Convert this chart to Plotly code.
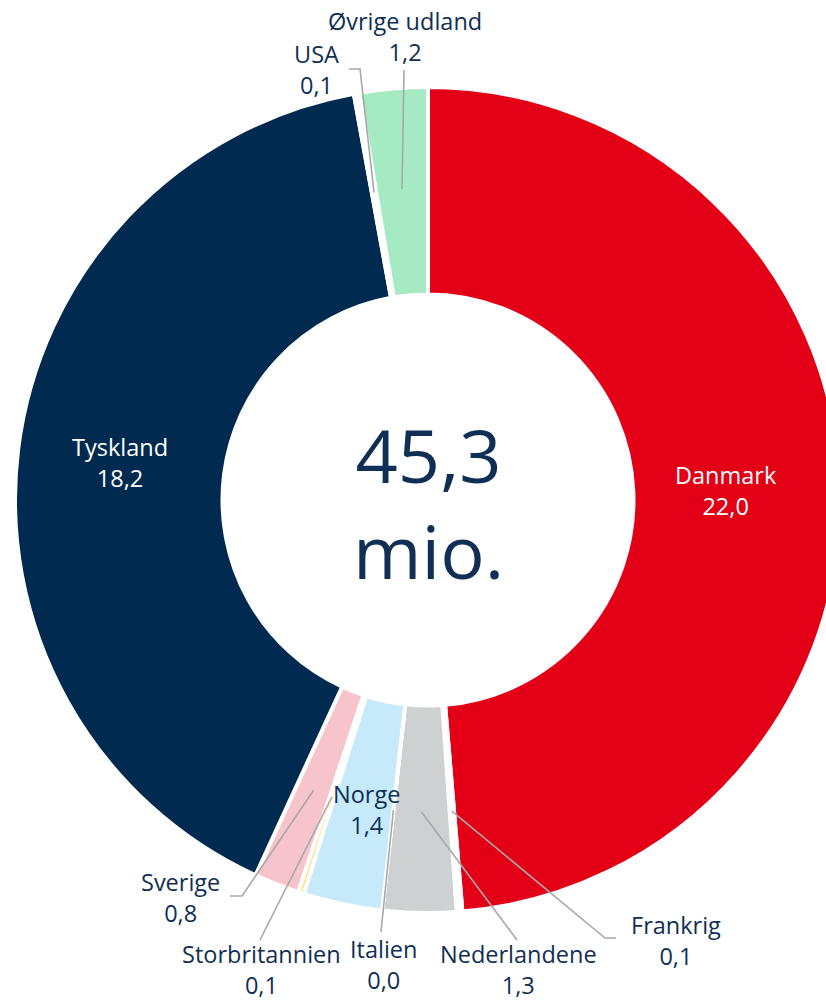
import math
import plotly.graph_objects as go

# ---------------- data ----------------
countries = ["Danmark", "Frankrig", "Nederlandene", "Italien", "Norge",
             "Storbritannien", "Sverige", "Tyskland", "USA", "Øvrige udland"]
values = [22.0, 0.1, 1.3, 0.0, 1.4, 0.1, 0.8, 18.2, 0.1, 1.2]
total_text = ["45,3", "mio."]

# ---------------- style ----------------
slice_colors = {
    "Danmark": "#E30016", "Frankrig": "#FFFFFF", "Nederlandene": "#CED1D2",
    "Italien": "#FFFFFF", "Norge": "#C6EAFA", "Storbritannien": "#FFE36E",
    "Sverige": "#F8C4CC", "Tyskland": "#002A4F", "USA": "#FFFFFF",
    "Øvrige udland": "#A6EAC3",
}
NAVY = "#0F2F55"
LEADER = "#A8A8A8"
FONT = "Open Sans, Lato, sans-serif"
LABEL_SIZE = 23.5

W, H = 856, 1001          # figure size in px
CX, CY = 428, 500         # pie centre (px)
R = 413                   # pie radius (px)
HOLE = 0.4976
ANCHOR_R = 312            # where leader lines start (px from centre)

# label block centre positions (px) and text colour
label_pos = {
    "Danmark": (726, 491, "white"),
    "Tyskland": (120, 462, "white"),
    "Norge": (366, 809, NAVY),
    "Øvrige udland": (405, 37, NAVY),
    "USA": (316, 69, NAVY),
    "Sverige": (180, 897, NAVY),
    "Storbritannien": (261, 969, NAVY),
    "Italien": (383, 964, NAVY),
    "Nederlandene": (518, 969, NAVY),
    "Frankrig": (676, 940, NAVY),
}
# leader line waypoints after the anchor point (px)
leader_pts = {
    "Øvrige udland": [(404, 70)],
    "USA": [(360, 69), (349, 69)],
    "Sverige": [(242, 896), (230, 896)],
    "Storbritannien": [(260, 940)],
    "Italien": [(381, 932)],
    "Nederlandene": [(517, 940)],
    "Frankrig": [(605, 938), (616, 938)],
}


def px2paper(x, y):
    return x / W, 1 - y / H


fig = go.Figure()
dx0, dy1 = px2paper(CX - R, CY - R)
dx1, dy0 = px2paper(CX + R, CY + R)
fig.add_trace(go.Pie(
    labels=countries, values=values, sort=False, direction="clockwise",
    rotation=0, hole=HOLE, textinfo="none", hoverinfo="label+value",
    marker=dict(colors=[slice_colors[c] for c in countries],
                line=dict(color="white", width=4)),
    domain=dict(x=[dx0, dx1], y=[dy0, dy1]),
    showlegend=False,
))

total = sum(values)
cum = 0.0
shapes = []
annotations = []
for name, v in zip(countries, values):
    mid = (cum + v / 2) / total * 2 * math.pi
    cum += v
    ax = CX + ANCHOR_R * math.sin(mid)
    ay = CY - ANCHOR_R * math.cos(mid)
    if name in leader_pts:
        pts = [(ax, ay)] + leader_pts[name]
        path = ""
        for i, (x, y) in enumerate(pts):
            px, py = px2paper(x, y)
            path += ("M" if i == 0 else " L") + f"{px:.5f},{py:.5f}"
        shapes.append(dict(type="path", path=path, xref="paper", yref="paper",
                           line=dict(color=LEADER, width=1.6), layer="above"))
    lx, ly, col = label_pos[name]
    px, py = px2paper(lx, ly)
    val = f"{v:.1f}".replace(".", ",")
    annotations.append(dict(
        x=px, y=py, xref="paper", yref="paper", xanchor="center", yanchor="middle",
        text=f"{name}<br>{val}", showarrow=False, borderpad=0,
        font=dict(family=FONT, size=LABEL_SIZE, color=col)))

px, py = px2paper(CX, 502)
annotations.append(dict(
    x=px, y=py, xref="paper", yref="paper", xanchor="center", yanchor="middle",
    text="<br>".join(total_text), showarrow=False,
    font=dict(family=FONT, size=74, color=NAVY)))

fig.update_layout(
    width=W, height=H, margin=dict(l=0, r=0, t=0, b=0),
    paper_bgcolor="white", plot_bgcolor="white",
    shapes=shapes, annotations=annotations, showlegend=False,
)

fig.write_html(
    "out.html",
    config={"displayModeBar": False},
    post_script="document.body.style.margin='0';"
                "document.body.style.overflow='hidden';",
)
